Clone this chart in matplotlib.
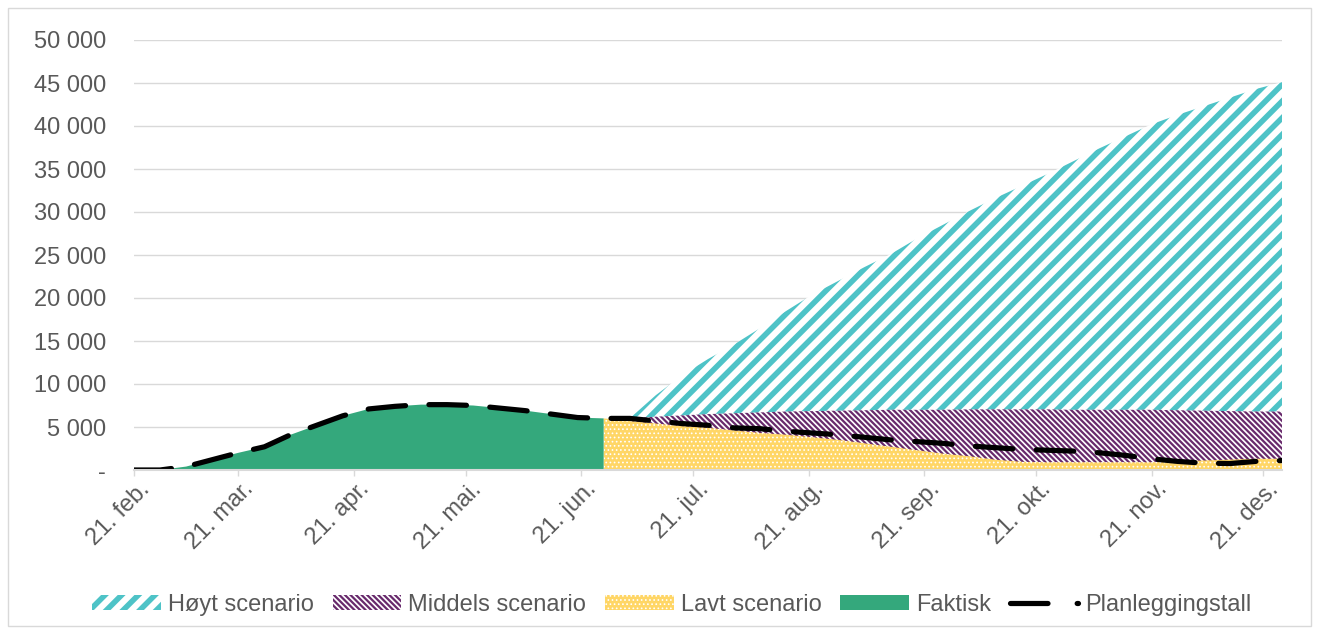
import matplotlib
matplotlib.use("Agg")
import matplotlib.pyplot as plt
from matplotlib.patches import Patch, Rectangle
from matplotlib.lines import Line2D
from matplotlib.transforms import ScaledTranslation
import pandas as pd

plt.rcParams['font.family'] = ['Liberation Sans', 'DejaVu Sans']

# Weekly points, 21 Feb to 26 Dec
dates = pd.date_range('2021-02-21', periods=45, freq='7D')

faktisk = [0, 0, 400, 1200, 2000, 2700, 4100, 5200, 6300, 7100, 7400, 7600,
           7600, 7500, 7200, 6900, 6500, 6100, 6000]

planlegging = faktisk + [6000, 5700, 5400, 5200, 4900, 4800, 4500, 4300, 4100,
                         3800, 3500, 3300, 3100, 2800, 2600, 2400, 2300, 2200,
                         2000, 1700, 1300, 1000, 800, 750, 1000, 1100]

# Scenarios start at week 18 (lavt) / 19 (middels, høyt)
lavt = [6000, 5700, 5400, 5100, 4900, 4600, 4300, 4100, 3800, 3500, 3100, 2700,
        2300, 1900, 1600, 1200, 950, 900, 900, 900, 900, 900, 1000, 1100, 1200,
        1300, 1300]
middels = [6000, 6200, 6350, 6500, 6600, 6700, 6800, 6850, 6900, 6950, 7000,
           7000, 7000, 7050, 7050, 7050, 7050, 7000, 7000, 7000, 7000, 6950,
           6900, 6850, 6800, 6800]
hoyt = [6000, 8700, 11000, 12900, 14600, 16500, 18500, 20400, 22000, 23600,
        25100, 26900, 28500, 30100, 31600, 33000, 34400, 35900, 37400,
        38800, 40200, 41300, 42300, 43300, 44300, 45100]

tick_dates = pd.date_range('2021-02-01', periods=11, freq='MS') + pd.Timedelta(days=20)
tick_labels = ['21. feb.', '21. mar.', '21. apr.', '21. mai.', '21. jun.', '21. jul.',
               '21. aug.', '21. sep.', '21. okt.', '21. nov.', '21. des.']
y_ticks = [0, 5000, 10000, 15000, 20000, 25000, 30000, 35000, 40000, 45000, 50000]
y_labels = ['-', '5 000', '10 000', '15 000', '20 000', '25 000', '30 000',
            '35 000', '40 000', '45 000', '50 000']

teal = '#4EC3C7'
purple = '#682A6C'
yellow = '#FFD666'
green = '#34A87C'
grey_text = '#595959'
grid_grey = '#D9D9D9'

fig = plt.figure(figsize=(13.21, 6.34), dpi=100)
ax = fig.add_axes([134 / 1321, 1 - 470 / 634, (1282 - 134) / 1321, 430 / 634])

# outer chart border
fig.patches.append(Rectangle((8 / 1321, 8 / 634), 1303 / 1321, 618 / 634,
                             transform=fig.transFigure, fill=False,
                             edgecolor=grid_grey, linewidth=1))


def hatched_fill(x, y, face, edge, hatch, hatch_lw, z):
    with plt.rc_context({'hatch.linewidth': hatch_lw}):
        coll = ax.fill_between(x, 0, y, facecolor=face, edgecolor=edge,
                               hatch=hatch, linewidth=0, zorder=z)
    if hasattr(coll, 'set_hatch_linewidth'):
        coll.set_hatch_linewidth(hatch_lw)
    return coll


hatch_hoyt = '//'
hatch_middels = '\\' * 6
hatch_lavt = '....'
hatch_widths = [4.0, 1.6, 0.7]

hatched_fill(dates[19:], hoyt, 'white', teal, hatch_hoyt, hatch_widths[0], 2)
hatched_fill(dates[19:], middels, 'white', purple, hatch_middels, hatch_widths[1], 3)
hatched_fill(dates[18:], lavt, yellow, 'white', hatch_lavt, hatch_widths[2], 4)
ax.fill_between(dates[:19], 0, faktisk, facecolor=green, linewidth=0, zorder=5)

ax.plot(dates, planlegging, color='black', linewidth=3.75,
        linestyle=(0, (7.2, 4.5)), dash_capstyle='round', zorder=6)

ax.set_yticks(y_ticks)
ax.set_yticklabels(y_labels)
ax.set_xticks(tick_dates)
ax.set_xticklabels(tick_labels, rotation=45, ha='right', va='center',
                   rotation_mode='anchor')
ax.set_xlim(dates[0], dates[-1])
ax.set_ylim(0, 50000)

ax.grid(axis='y', color=grid_grey, linewidth=1)
ax.set_axisbelow(True)
for side in ['top', 'right', 'left']:
    ax.spines[side].set_visible(False)
ax.spines['bottom'].set_color(grid_grey)
ax.spines['bottom'].set_linewidth(1.5)
ax.spines['bottom'].set_zorder(7)
ax.tick_params(axis='y', length=0, pad=20, labelsize=17, labelcolor=grey_text)
ax.tick_params(axis='x', length=4, width=1, color=grid_grey, pad=6,
               labelsize=17, labelcolor=grey_text)

# nudge the rotated date labels right, like Excel places them
offset = ScaledTranslation(12 / 100, -2 / 100, fig.dpi_scale_trans)
for lab in ax.get_xticklabels():
    lab.set_transform(lab.get_transform() + offset)

handles = [
    Patch(facecolor='white', edgecolor=teal, hatch=hatch_hoyt, linewidth=0),
    Patch(facecolor='white', edgecolor=purple, hatch=hatch_middels, linewidth=0),
    Patch(facecolor=yellow, edgecolor='white', hatch=hatch_lavt, linewidth=0),
    Patch(facecolor=green, linewidth=0),
    Line2D([], [], color='black', linewidth=3.75, linestyle=(0, (7.2, 5.6)),
           dash_capstyle='round'),
]
names = ['Høyt scenario', 'Middels scenario', 'Lavt scenario', 'Faktisk',
         'Planleggingstall']
leg = fig.legend(handles, names, loc='center',
                 bbox_to_anchor=(672 / 1321, 1 - 605 / 634),
                 ncol=5, frameon=False, fontsize=17, labelcolor=grey_text,
                 handlelength=2.9, handleheight=0.6, handletextpad=0.3,
                 columnspacing=0.8)
for p, lw in zip(leg.get_patches(), hatch_widths):
    if hasattr(p, 'set_hatch_linewidth'):
        p.set_hatch_linewidth(lw)

fig.savefig('out.png', dpi=100)
